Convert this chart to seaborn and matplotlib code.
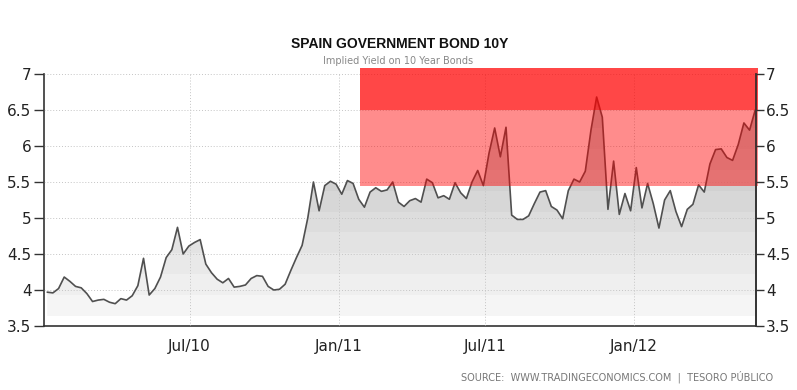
import numpy as np
import pandas as pd
import matplotlib
matplotlib.use("Agg")
import matplotlib.pyplot as plt
import matplotlib.dates as mdates
from matplotlib.patches import Polygon
import seaborn as sns

# weekly 10Y yield readings, Jan 2010 - May 2012
start_date = "2010-01-06"
yields = [
    3.97, 3.96, 4.02, 4.18, 4.12, 4.05, 4.03, 3.95, 3.84, 3.86,
    3.87, 3.83, 3.81, 3.88, 3.86, 3.92, 4.06, 4.44, 3.93, 4.02,
    4.18, 4.45, 4.56, 4.87, 4.50, 4.61, 4.66, 4.70, 4.36, 4.24,
    4.15, 4.10, 4.16, 4.04, 4.05, 4.07, 4.16, 4.20, 4.19, 4.05,
    4.00, 4.01, 4.08, 4.27, 4.45, 4.62, 5.00, 5.50, 5.10, 5.45,
    5.51, 5.47, 5.33, 5.52, 5.48, 5.26, 5.15, 5.36, 5.42, 5.37,
    5.39, 5.50, 5.22, 5.16, 5.24, 5.27, 5.22, 5.54, 5.49, 5.28,
    5.31, 5.26, 5.49, 5.35, 5.27, 5.50, 5.66, 5.45, 5.90, 6.25,
    5.85, 6.26, 5.04, 4.98, 4.98, 5.03, 5.20, 5.36, 5.38, 5.16,
    5.11, 4.99, 5.38, 5.54, 5.50, 5.65, 6.22, 6.68, 6.40, 5.12,
    5.79, 5.05, 5.34, 5.10, 5.70, 5.14, 5.48, 5.20, 4.86, 5.25,
    5.38, 5.09, 4.88, 5.12, 5.19, 5.46, 5.36, 5.75, 5.95, 5.96,
    5.84, 5.80, 6.02, 6.32, 6.22, 6.50,
]

y_ticks = [3.5, 4, 4.5, 5, 5.5, 6, 6.5, 7]
y_labels = ["3.5", "4", "4.5", "5", "5.5", "6", "6.5", "7"]
x_ticks = ["2010-07-01", "2011-01-01", "2011-07-01", "2012-01-01"]
x_labels = ["Jul/10", "Jan/11", "Jul/11", "Jan/12"]

# danger zones (red overlays)
zone_start, zone_end = "2011-01-27", "2012-06-02"
zone_low = (5.45, 6.5)
zone_high = (6.5, 7.08)

df = pd.DataFrame({
    "date": pd.date_range(start_date, periods=len(yields), freq="7D"),
    "yield": yields,
})

sns.set_style("white")
plt.rcParams["font.family"] = ["DejaVu Sans"]

fig = plt.figure(figsize=(7.97, 3.90), dpi=100)
ax = fig.add_axes([0.0552, 0.1641, 0.8934, 0.6462])

# banded grey fill under the line, darker towards the top,
# clipped to the area below the curve
base = 3.64
xnum = mdates.date2num(df["date"])
verts = [(xnum[0], base)] + list(zip(xnum, df["yield"])) + [(xnum[-1], base)]
area = Polygon(verts, closed=True, transform=ax.transData)
edges = np.arange(base, 7.2, 0.29)
greys = np.linspace(0.962, 0.70, len(edges) - 1)
for lo, hi, g in zip(edges[:-1], edges[1:], greys):
    band = ax.axhspan(lo, hi, color=(g, g, g), lw=0, zorder=1)
    band.set_clip_path(area)

sns.lineplot(data=df, x="date", y="yield", ax=ax, color="#505050",
             lw=1.2, zorder=3)

# red zones on top
zx = pd.to_datetime([zone_start, zone_end])
ax.fill_between(zx, *zone_low, color="red", alpha=0.45, lw=0,
                zorder=5, clip_on=False)
ax.fill_between(zx, *zone_high, color="red", alpha=0.72, lw=0,
                zorder=5, clip_on=False)

ax.set_xlim(pd.Timestamp("2010-01-02"), pd.Timestamp("2012-05-31"))
ax.set_ylim(3.5, 7)
ax.set_xlabel("")
ax.set_ylabel("")

ax.set_yticks(y_ticks)
ax.set_yticklabels(y_labels)
ax.set_xticks(pd.to_datetime(x_ticks))
ax.set_xticklabels(x_labels)

ax.grid(True, color="#C4C4C4", lw=0.7, ls=(0, (1, 2)))
ax.set_axisbelow(False)
for gl in ax.get_xgridlines() + ax.get_ygridlines():
    gl.set_zorder(2)

ax.spines["top"].set_visible(False)
for s in ["left", "bottom", "right"]:
    ax.spines[s].set_color("#333333")
    ax.spines[s].set_linewidth(1.2)
ax.tick_params(axis="y", direction="out", length=7, width=1, color="#333333",
               labelsize=11, labelcolor="#222222", pad=2)
ax.tick_params(axis="x", direction="out", length=5, width=1, color="#333333",
               labelsize=11, labelcolor="#222222", pad=4)

# mirrored axis on the right
ax2 = ax.twinx()
ax2.set_ylim(ax.get_ylim())
ax2.set_yticks(y_ticks)
ax2.set_yticklabels(y_labels)
ax2.tick_params(axis="y", direction="out", length=6, width=1, color="#333333",
                labelsize=11, labelcolor="#222222", pad=1)
for s in ["top", "left", "bottom"]:
    ax2.spines[s].set_visible(False)
ax2.spines["right"].set_color("#333333")
ax2.spines["right"].set_linewidth(1.2)

# titles and source
fig.text(0.502, 0.887, "SPAIN GOVERNMENT BOND 10Y", ha="center", va="center",
         fontsize=10, fontweight="bold", color="#111111",
         family=["Liberation Sans", "DejaVu Sans"])
fig.text(0.5, 0.843, "Implied Yield on 10 Year Bonds", ha="center",
         va="center", fontsize=7, color="#888888")
fig.text(0.97, 0.033, "SOURCE:  WWW.TRADINGECONOMICS.COM  |  TESORO PÚBLICO",
         ha="right", va="center", fontsize=7, color="#777777")

plt.savefig("out.png", dpi=100)
